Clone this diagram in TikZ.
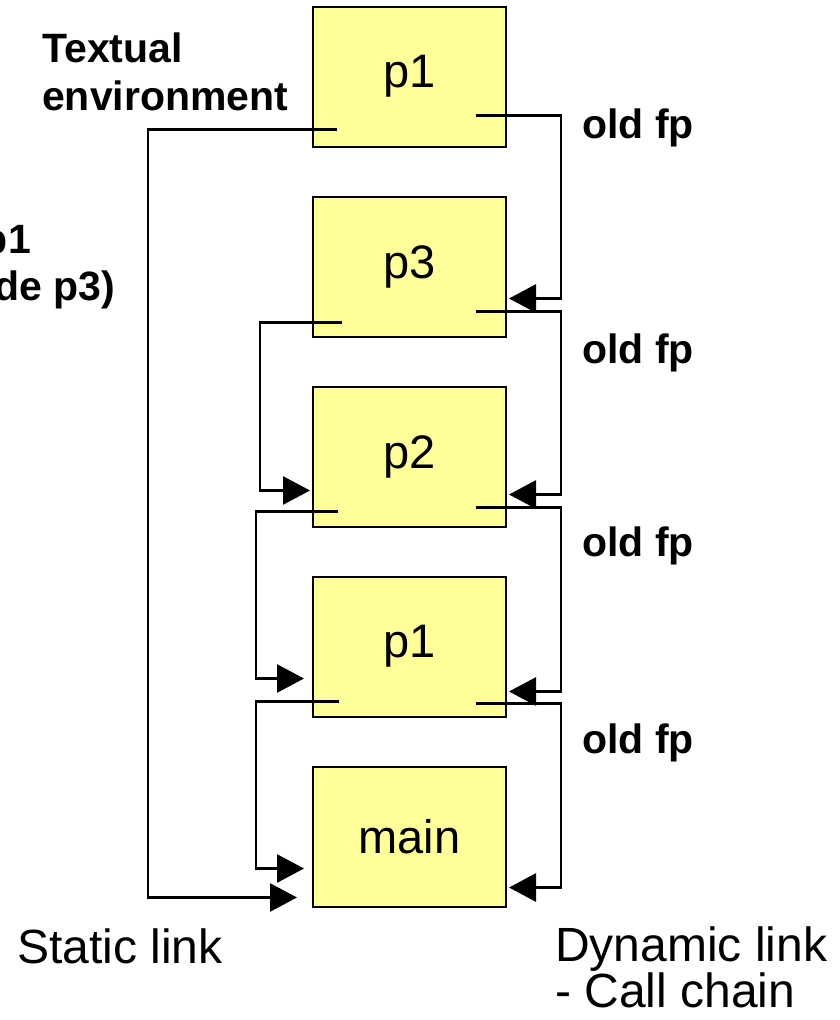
\documentclass[tikz,border=0pt]{standalone}
\usepackage{fontspec}
\setmainfont{Liberation Sans}
\usetikzlibrary{arrows.meta}
\definecolor{framefill}{HTML}{FFFF99}
\tikzset{
  frame/.style={draw, line width=2pt, fill=framefill, minimum width=193pt,
    minimum height=140pt, inner sep=0pt, font=\fontsize{47}{56}\selectfont},
  link/.style={line width=2.8pt, -{Triangle[length=27pt,width=28pt]}},
  note/.style={inner sep=0pt, font=\fontsize{41}{48}\selectfont\bfseries},
  caption/.style={inner sep=0pt, font=\fontsize{48}{42}\selectfont},
}
\begin{document}
\begin{tikzpicture}[x=1pt,y=-1pt]
\useasboundingbox (0,0) rectangle (839,1020);

\node[frame] (f1) at (409.5,76.5) {p1};
\node[frame] (f2) at (409.5,266.5) {p3};
\node[frame] (f3) at (409.5,456.5) {p2};
\node[frame] (f4) at (409.5,646.5) {p1};
\node[frame] (f5) at (409.5,836.5) {main};

% dynamic links (old fp)
\draw[link] ([shift={(164,110)}]f1.north west) -| ([shift={(249,103)}]f2.north west) -- ([shift={(197,103)}]f2.north west);
\draw[link] ([shift={(164,116)}]f2.north west) -| ([shift={(249,109)}]f3.north west) -- ([shift={(197,109)}]f3.north west);
\draw[link] ([shift={(164,122)}]f3.north west) -| ([shift={(249,116)}]f4.north west) -- ([shift={(197,116)}]f4.north west);
\draw[link] ([shift={(164,128)}]f4.north west) -| ([shift={(249,122)}]f5.north west) -- ([shift={(197,122)}]f5.north west);

% static links
\draw[link] ([shift={(25,124)}]f1.north west) -| ([shift={(-164,132)}]f5.north west) -- ([shift={(-15,132)}]f5.north west);
\draw[link] ([shift={(30,127)}]f2.north west) -| ([shift={(-52,105)}]f3.north west) -- ([shift={(-2,105)}]f3.north west);
\draw[link] ([shift={(26,126)}]f3.north west) -| ([shift={(-56,103)}]f4.north west) -- ([shift={(-8,103)}]f4.north west);
\draw[link] ([shift={(27,126)}]f4.north west) -| ([shift={(-56,103)}]f5.north west) -- ([shift={(-8,103)}]f5.north west);

\node[note, anchor=base west, align=left] (env) at (42,110) {Textual\\environment};
\node[note, anchor=base east] (sl1) at (31,253) {p1};
\node[note, anchor=base east] (sl2) at (115,300) {de p3)};

\node[note, anchor=base west] (fp1) at (582,138) {old fp};
\node[note, anchor=base west] (fp2) at (582,363) {old fp};
\node[note, anchor=base west] (fp3) at (582,556) {old fp};
\node[note, anchor=base west] (fp4) at (582,753) {old fp};

\node[caption, anchor=base west] (static) at (17,963) {Static link};
\node[caption, anchor=base west, align=left] (dynamic) at (555,1007) {Dynamic link\\- Call chain};
\end{tikzpicture}
\end{document}
